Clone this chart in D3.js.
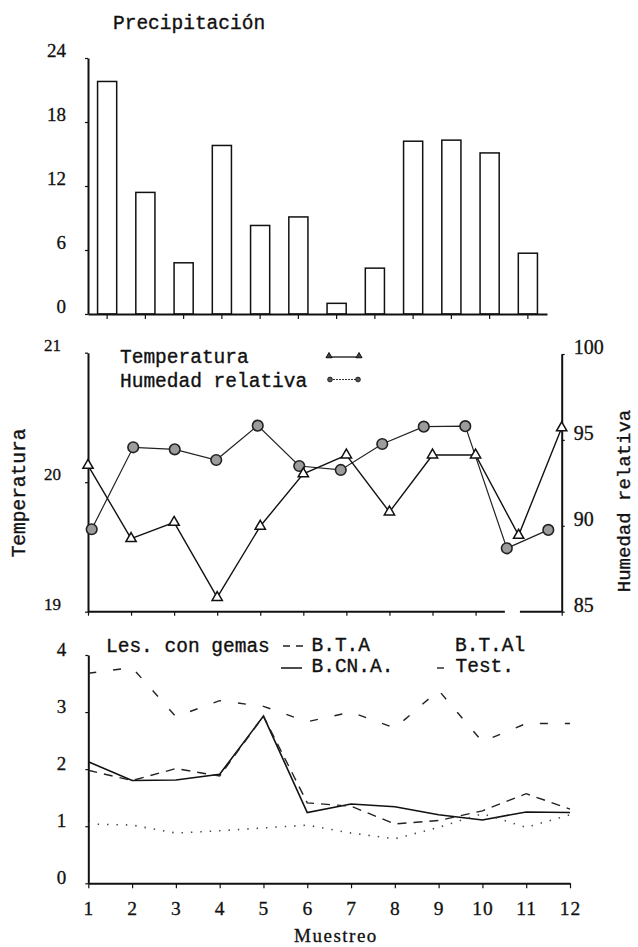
<!DOCTYPE html>
<html>
<head>
<meta charset="utf-8">
<script src="https://cdn.jsdelivr.net/npm/d3@7"></script>
<style>
  html, body { margin: 0; padding: 0; background: #fff; }
  svg { display: block; }
</style>
</head>
<body>
<svg id="chart" width="638" height="947"></svg>
<script>
// Sampling campaigns (Muestreo 1..12)
const muestreos = [1, 2, 3, 4, 5, 6, 7, 8, 9, 10, 11, 12];

// Precipitación per sampling
const precipitacion = [21.8, 11.4, 4.8, 15.8, 8.3, 9.1, 1.0, 4.3, 16.2, 16.3, 15.1, 5.7];
const precipTicks = [0, 6, 12, 18, 24];

// Temperatura (left axis) and Humedad relativa (right axis)
const temperatura = [20.13, 19.565, 19.69, 19.11, 19.66, 20.065, 20.21, 19.77, 20.21, 20.21, 19.59, 20.42];
const humedad = [89.8, 94.57, 94.45, 93.83, 95.83, 93.48, 93.25, 94.76, 95.77, 95.8, 88.69, 89.76];
const tempTicks = [19, 20, 21];
const humTicks = [85, 90, 95, 100];

// Lesiones con gemas per treatment
const lesTest = [3.68, 3.78, 2.92, 3.2, 3.1, 2.83, 3.0, 2.72, 3.38, 2.48, 2.8, 2.8];
const lesBCNA = [2.13, 1.8, 1.81, 1.91, 2.93, 1.24, 1.39, 1.34, 1.2, 1.11, 1.25, 1.24];
const lesBTA = [1.98, 1.8, 2.01, 1.88, 2.93, 1.41, 1.35, 1.04, 1.1, 1.27, 1.57, 1.3];
const lesBTAl = [1.04, 1.02, 0.88, 0.92, 0.97, 1.02, 0.88, 0.78, 0.98, 1.22, 0.98, 1.2];
const lesTicks = [0, 1, 2, 3, 4];

const ink = "#111";
const MONO = "'Liberation Mono', 'Courier New', monospace";
const SERIF = "'Liberation Serif', 'Times New Roman', serif";
const intFmt = d3.format("d");

const svg = d3.select("#chart");

function styleAxis(g, fontSize, labelShift) {
  g.attr("font-family", SERIF);
  g.select(".domain").attr("stroke", ink).attr("stroke-width", 2);
  g.selectAll(".tick line").attr("stroke", ink).attr("stroke-width", 1.2);
  const t = g.selectAll(".tick text")
    .attr("fill", ink)
    .attr("font-family", SERIF)
    .style("font-family", SERIF)
    .style("font-size", fontSize + "px")
    .attr("stroke", ink).attr("stroke-width", 0.3);
  if (labelShift !== null) t.attr("y", labelShift);
}

function monoText(sel) {
  return sel.style("font-family", MONO).style("font-size", "19.5px")
    .attr("fill", ink).attr("stroke", ink).attr("stroke-width", 0.35);
}

/* ---------------- Precipitación (bars) ---------------- */
const xb = d3.scaleBand().domain(muestreos).range([88, 547]).paddingInner(0.5).paddingOuter(0.25);
const yb = d3.scaleLinear().domain([0, 24]).range([314, 58]);

svg.append("g")
  .selectAll("rect")
  .data(precipitacion)
  .join("rect")
  .attr("x", (d, i) => xb(muestreos[i]))
  .attr("y", d => yb(d))
  .attr("width", xb.bandwidth())
  .attr("height", d => yb(0) - yb(d))
  .attr("fill", "#fff")
  .attr("stroke", ink)
  .attr("stroke-width", 1.5);

svg.append("g")
  .attr("transform", "translate(88,0)")
  .call(d3.axisLeft(yb).tickValues(precipTicks).tickFormat(intFmt).tickSize(3).tickPadding(19).tickSizeOuter(0))
  .call(g => styleAxis(g, 19, -8));

svg.append("g")
  .attr("transform", `translate(0,${yb(0)})`)
  .call(d3.axisBottom(xb).tickSize(5).tickSizeOuter(0).tickFormat(""))
  .call(g => styleAxis(g, 12, null));

svg.append("text")
  .attr("x", 113).attr("y", 29)
  .call(monoText)
  .text("Precipitación");

/* ---------------- Temperatura / Humedad relativa ---------------- */
const xt = d3.scaleLinear().domain([1, 12]).range([88, 561.7]);
const xh = d3.scaleLinear().domain([1, 12]).range([91.7, 548.3]);
const yt = d3.scaleLinear().domain([19, 21]).range([611.7, 352.7]);
const yh = d3.scaleLinear().domain([85, 100]).range([611.7, 354]);

svg.append("g")
  .attr("transform", "translate(88,0)")
  .call(d3.axisLeft(yt).tickValues(tempTicks).tickFormat(intFmt).tickSize(3).tickPadding(24).tickSizeOuter(0))
  .call(g => styleAxis(g, 17, -8));

svg.append("g")
  .attr("transform", "translate(561.7,0)")
  .call(d3.axisRight(yh).tickValues(humTicks).tickFormat(intFmt).tickSize(3).tickPadding(9).tickSizeOuter(0))
  .call(g => styleAxis(g, 20, -7));

// bottom axis: ticks, then a baseline broken near sampling 11
const gtx = svg.append("g")
  .attr("transform", `translate(0,${yt(19)})`)
  .call(d3.axisBottom(xt).tickValues(muestreos.filter(m => m !== 11)).tickSize(4).tickSizeOuter(0).tickFormat(""))
  .call(g => styleAxis(g, 12, null));
gtx.select(".domain").remove();
[[1, 10.68], [11.03, 12]].forEach(([a, b]) => {
  gtx.append("line")
    .attr("x1", xt(a)).attr("x2", xt(b))
    .attr("y1", 0).attr("y2", 0)
    .attr("stroke", ink).attr("stroke-width", 2);
});

// Humedad relativa line
svg.append("path")
  .datum(humedad)
  .attr("fill", "none")
  .attr("stroke", "#222")
  .attr("stroke-width", 1.2)
  .attr("d", d3.line().x((d, i) => xh(muestreos[i])).y(d => yh(d)));

// Temperatura line
svg.append("path")
  .datum(temperatura)
  .attr("fill", "none")
  .attr("stroke", ink)
  .attr("stroke-width", 1.4)
  .attr("d", d3.line().x((d, i) => xt(muestreos[i])).y(d => yt(d)));

svg.append("g")
  .selectAll("circle")
  .data(humedad)
  .join("circle")
  .attr("cx", (d, i) => xh(muestreos[i]))
  .attr("cy", d => yh(d))
  .attr("r", 5.3)
  .attr("fill", "#9c9c9c")
  .attr("stroke", "#222")
  .attr("stroke-width", 1.6);

const tri = d3.symbol().type(d3.symbolTriangle).size(46);
svg.append("g")
  .selectAll("path")
  .data(temperatura)
  .join("path")
  .attr("transform", (d, i) => `translate(${xt(muestreos[i])},${yt(d)})`)
  .attr("d", tri)
  .attr("fill", "#fff")
  .attr("stroke", ink)
  .attr("stroke-width", 1.5);

// legend
const legT = svg.append("g");
legT.append("text").attr("x", 120).attr("y", 363).call(monoText).text("Temperatura");
legT.append("text").attr("x", 120).attr("y", 386.5).call(monoText).text("Humedad relativa");
legT.append("line").attr("x1", 329).attr("x2", 359).attr("y1", 357).attr("y2", 357)
  .attr("stroke", ink).attr("stroke-width", 1.3);
[329, 359].forEach(x => {
  legT.append("path").attr("transform", `translate(${x},356)`)
    .attr("d", d3.symbol().type(d3.symbolTriangle).size(16))
    .attr("fill", "#444").attr("stroke", ink).attr("stroke-width", 1);
});
legT.append("line").attr("x1", 330).attr("x2", 358).attr("y1", 379.5).attr("y2", 379.5)
  .attr("stroke", "#333").attr("stroke-width", 1.2).attr("stroke-dasharray", "2,1");
[330, 358].forEach(x => {
  legT.append("circle").attr("cx", x).attr("cy", 379.5).attr("r", 2.4)
    .attr("fill", "#555").attr("stroke", ink).attr("stroke-width", 0.8);
});

// axis titles
svg.append("text")
  .attr("transform", "translate(25,493) rotate(-90)")
  .attr("text-anchor", "middle")
  .call(monoText)
  .text("Temperatura");
svg.append("text")
  .attr("transform", "translate(630,501) rotate(-90)")
  .attr("text-anchor", "middle")
  .call(monoText)
  .style("font-size", "19px")
  .text("Humedad relativa");

/* ---------------- Lesiones con gemas ---------------- */
const xl = d3.scaleLinear().domain([1, 12]).range([88.3, 570]);
const yl = d3.scaleLinear().domain([0, 4]).range([883.3, 655]);

svg.append("g")
  .attr("transform", "translate(88.3,0)")
  .call(d3.axisLeft(yl).tickValues(lesTicks).tickFormat(intFmt).tickSize(3).tickPadding(19).tickSizeOuter(0))
  .call(g => styleAxis(g, 19, -6));

svg.append("g")
  .attr("transform", `translate(0,${yl(0)})`)
  .call(d3.axisBottom(xl).tickValues(muestreos).tickFormat(intFmt).tickSize(5).tickPadding(13).tickSizeOuter(0))
  .call(g => styleAxis(g, 19.5, null))
  .call(g => g.selectAll(".tick text").style("letter-spacing", "1px"));

const lesSeries = [
  { name: "Test.",   values: lesTest,  dash: "8,17",  width: 1.4, color: "#222" },
  { name: "B.CN.A.", values: lesBCNA,  dash: null,    width: 1.6, color: ink },
  { name: "B.T.A",   values: lesBTA,   dash: "9,7",   width: 1.4, color: "#222" },
  { name: "B.T.Al",  values: lesBTAl,  dash: "1.4,8", width: 1.6, color: "#444" }
];
const lesLine = d3.line().x((d, i) => xl(muestreos[i])).y(d => yl(d));
svg.append("g")
  .selectAll("path")
  .data(lesSeries)
  .join("path")
  .attr("fill", "none")
  .attr("stroke", d => d.color)
  .attr("stroke-width", d => d.width)
  .attr("stroke-dasharray", d => d.dash)
  .attr("d", d => lesLine(d.values));

// legend
const legL = svg.append("g");
legL.append("text").attr("x", 106).attr("y", 651.5).call(monoText).text("Les. con gemas");
legL.append("text").attr("x", 311.5).attr("y", 651).call(monoText).text("B.T.A");
legL.append("text").attr("x", 455).attr("y", 651).call(monoText).text("B.T.Al");
legL.append("text").attr("x", 311.5).attr("y", 672).call(monoText).text("B.CN.A.");
legL.append("text").attr("x", 455.5).attr("y", 672).call(monoText).text("Test.");
legL.append("line").attr("x1", 283).attr("x2", 307).attr("y1", 646).attr("y2", 646)
  .attr("stroke", "#222").attr("stroke-width", 1.4).attr("stroke-dasharray", "7,6");
legL.append("line").attr("x1", 281).attr("x2", 302).attr("y1", 668).attr("y2", 668)
  .attr("stroke", ink).attr("stroke-width", 1.5);
legL.append("line").attr("x1", 437).attr("x2", 444).attr("y1", 668).attr("y2", 668)
  .attr("stroke", "#222").attr("stroke-width", 1.4);

svg.append("text")
  .attr("x", 336).attr("y", 942)
  .attr("text-anchor", "middle")
  .style("font-family", SERIF).style("font-size", "19px").style("letter-spacing", "1.5px")
  .attr("fill", ink).attr("stroke", ink).attr("stroke-width", 0.3)
  .text("Muestreo");
</script>
</body>
</html>
